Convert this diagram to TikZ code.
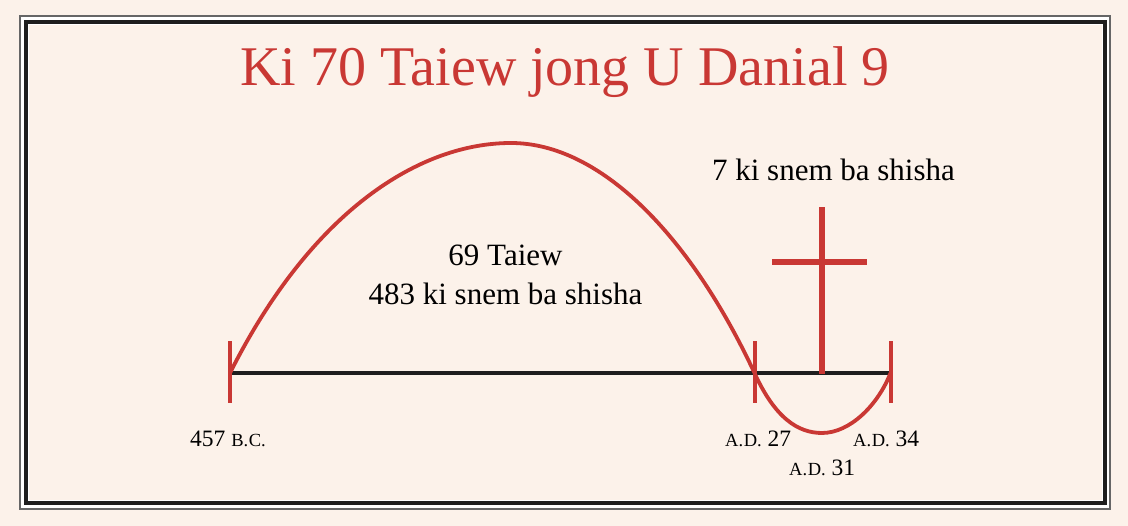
\documentclass[tikz,border=0pt]{standalone}
\usepackage{fontspec}
\setmainfont{Liberation Serif}
\definecolor{cream}{RGB}{252,242,234}
\definecolor{dred}{RGB}{201,56,52}
\definecolor{frameblack}{RGB}{30,30,30}
\newcommand\mysmcaps[1]{{\fontsize{18.5}{18}\selectfont #1}}
\begin{document}
\begin{tikzpicture}[x=1pt,y=-1pt,
  redline/.style={draw=dred,line width=4pt},
  bodytext/.style={inner sep=0pt,anchor=base,font=\fontsize{31}{31}\selectfont},
  datelbl/.style={inner sep=0pt,anchor=base west,font=\fontsize{23.5}{23}\selectfont},
  ]
\useasboundingbox (0,0) rectangle (1128,526);
\fill[cream] (0,0) rectangle (1128,526);
% frame
\draw[draw=black!60,line width=1.2pt,fill=white] (20,16) rectangle (1110,509);
\draw[draw=frameblack,line width=3.6pt,fill=cream] (26,21.8) rectangle (1104.7,503);
\draw[draw=white,line width=0.8pt] (28.6,24.4) rectangle (1102.1,500.4);
% title
\node[inner sep=0pt,anchor=base,text=dred,font=\fontsize{56}{56}\selectfont] (title) at (565,86) {Ki 70 Taiew jong U Danial 9};
% coordinates
\coordinate (s) at (230,373);
\coordinate (m) at (754.5,373);
\coordinate (e) at (890.5,373);
\coordinate (peak) at (511,143);
\coordinate (low) at (822,433);
% timeline
\draw[draw=frameblack,line width=3.5pt] (s) -- (e);
% ticks
\draw[redline] ([yshift=-30]s) -- ([yshift=32]s);
\draw[redline] ([yshift=-30]m) -- ([yshift=32]m);
\draw[redline] ([yshift=-30]e) -- ([yshift=32]e);
% cross
\coordinate (crossbot) at (822,374);
\coordinate (crosstop) at (822,207);
\coordinate (crossl) at (772,262);
\coordinate (crossr) at (867,262);
\draw[draw=dred,line width=5.5pt] (crossbot) -- (crosstop);
\draw[draw=dred,line width=5.5pt] (crossl) -- (crossr);
% curve
\draw[redline,line width=3.8pt] (s) .. controls (312,210) and (420,143) .. (peak)
   .. controls (600,143) and (690,235) .. (m)
   .. controls (775,418) and (798,433) .. (low)
   .. controls (850,433) and (878,405) .. (e);
% texts
\node[bodytext] (t69) at (505.5,266) {69 Taiew};
\node[bodytext] (t483) at (505.5,305) {483 ki snem ba shisha};
\node[bodytext] (t7) at (833.5,180.7) {7 ki snem ba shisha};
\node[datelbl] (bc) at (190,447) {457 \mysmcaps{B.\kern.6pt C.}};
\node[datelbl] (ad27) at (725,447) {\mysmcaps{A.\kern.6pt D.} 27};
\node[datelbl] (ad34) at (853,447) {\mysmcaps{A.\kern.6pt D.} 34};
\node[datelbl] (ad31) at (789,476) {\mysmcaps{A.\kern.6pt D.} 31};
\end{tikzpicture}
\end{document}
